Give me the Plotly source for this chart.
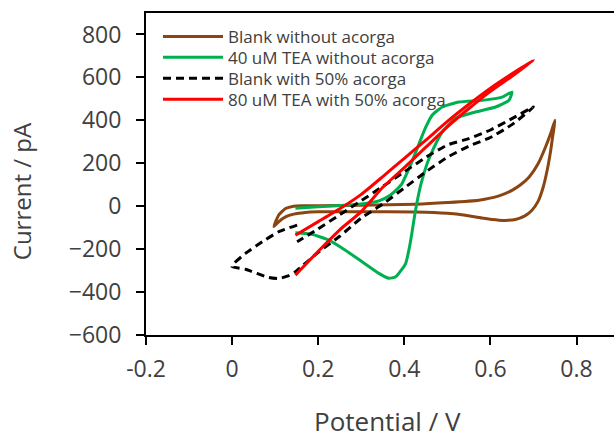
import plotly.graph_objects as go

# ---- data (Potential / V, Current / pA) ----
blank_v = [0.097, 0.108, 0.124, 0.143, 0.16, 0.2, 0.3, 0.426, 0.5, 0.573, 0.62, 0.65, 0.67, 0.69, 0.71, 0.728, 0.74, 0.75,
           0.745, 0.74, 0.732, 0.722, 0.71, 0.696, 0.68, 0.658, 0.64, 0.62, 0.58, 0.542, 0.5, 0.426, 0.3, 0.2, 0.17,
           0.143, 0.124, 0.108, 0.097]
blank_i = [-95, -42, -11, 0, 2, 2, 4, 9, 17, 28, 48, 74, 100, 136, 195, 276, 340, 400,
           330, 260, 170, 85, 20, -20, -45, -62, -66, -65, -55, -42, -33, -27, -26, -26, -29,
           -37, -50, -73, -95]

tea40_v = [0.147, 0.185, 0.225, 0.263, 0.302, 0.341, 0.364, 0.38, 0.403, 0.412, 0.418, 0.426, 0.438, 0.453, 0.468,
           0.488, 0.519, 0.565, 0.612, 0.643, 0.65, 0.627, 0.581, 0.527, 0.488, 0.465, 0.449, 0.434, 0.414, 0.393,
           0.368, 0.341, 0.31, 0.263, 0.2, 0.147]
tea40_i = [-124, -131, -158, -205, -259, -313, -336, -329, -267, -190, -120, -19, 98, 199, 270,
           345, 410, 439, 462, 493, 532, 508, 493, 485, 462, 425, 365, 290, 190, 100,
           52, 25, 13, 5, -3, -10]

blank50_v = [0.151, 0.108, 0.07, 0.031, 0.004, 0.0, 0.031, 0.085, 0.108, 0.13, 0.147,
             0.2, 0.25, 0.3, 0.35, 0.4, 0.45, 0.5, 0.55, 0.6, 0.65, 0.7,
             0.65, 0.6, 0.55, 0.5, 0.45, 0.4, 0.35, 0.3, 0.25, 0.2, 0.151]
blank50_i = [-88, -119, -166, -220, -267, -282, -294, -332, -337, -325, -305,
             -215, -140, -55, 10, 85, 160, 228, 280, 320, 380, 462,
             408, 355, 315, 285, 228, 160, 92, 26, -40, -105, -166]

tea80_v = [0.147, 0.2, 0.25, 0.3, 0.35, 0.4, 0.45, 0.5, 0.55, 0.6, 0.65, 0.7,
           0.65, 0.6, 0.55, 0.5, 0.45, 0.4, 0.35, 0.3, 0.25, 0.2, 0.147]
tea80_i = [-135, -72, -12, 55, 138, 223, 308, 395, 475, 550, 617, 680,
           605, 535, 455, 370, 275, 180, 88, -25, -110, -210, -321]

names = ["Blank without acorga", "40 uM TEA without acorga",
         "Blank with 50% acorga", "80 uM TEA with 50% acorga"]

x_ticks = [-0.2, 0, 0.2, 0.4, 0.6, 0.8]
x_tick_text = ["-0.2", "0", "0.2", "0.4", "0.6", "0.8"]
y_ticks = [-600, -400, -200, 0, 200, 400, 600, 800]

FONT = "Open Sans"
TXT = "#404040"
LEGEND_KEYS = ["legend", "legend2", "legend3", "legend4"]
LEGEND_Y = [0.926, 0.8608, 0.7956, 0.7304]

fig = go.Figure()
styles = [dict(color="#8B4513", width=3),
          dict(color="#00B050", width=3),
          dict(color="#000000", width=3, dash="8px,5px"),
          dict(color="#FF0000", width=3)]
series = [(blank_v, blank_i), (tea40_v, tea40_i), (blank50_v, blank50_i), (tea80_v, tea80_i)]
for k, ((xv, yv), st) in enumerate(zip(series, styles)):
    fig.add_trace(go.Scatter(x=xv, y=yv, mode="lines", name=names[k],
                             line=dict(shape="spline", smoothing=0.5, **st),
                             legend=LEGEND_KEYS[k]))

legend_common = dict(x=0.0256, xanchor="left", yanchor="middle",
                     bgcolor="rgba(0,0,0,0)", font=dict(size=17, color=TXT),
                     itemwidth=60)
for key, ly in zip(LEGEND_KEYS, LEGEND_Y):
    fig.update_layout({key: dict(y=ly, **legend_common)})

fig.update_layout(
    width=614, height=441,
    margin=dict(l=146, r=0, t=13, b=106),
    paper_bgcolor="white", plot_bgcolor="white",
    font=dict(family=FONT, color=TXT),
    showlegend=True,
    xaxis=dict(range=[-0.2, 0.887], tickvals=x_ticks, ticktext=x_tick_text,
               showgrid=False, zeroline=False, showline=True, linecolor="#000000",
               linewidth=2, mirror=True, ticks="outside", ticklen=8, tickwidth=2,
               tickcolor="#000000", tickfont=dict(size=23, color=TXT),
               ticklabelstandoff=4),
    yaxis=dict(range=[-600, 900], tickvals=y_ticks,
               showgrid=False, zeroline=False, showline=True, linecolor="#000000",
               linewidth=2, ticks="outside", ticklen=8, tickwidth=2,
               tickcolor="#000000", tickfont=dict(size=23, color=TXT),
               ticklabelstandoff=10),
    annotations=[
        dict(text="Current / pA", xref="paper", yref="paper", x=-0.266, y=0.445,
             textangle=-90, showarrow=False, font=dict(size=24, color=TXT),
             xanchor="center", yanchor="middle"),
        dict(text="Potential / V", xref="paper", yref="paper", x=0.515, y=-0.268,
             showarrow=False, font=dict(size=26, color=TXT),
             xanchor="center", yanchor="middle"),
    ],
)

fig.write_html("out.html")
